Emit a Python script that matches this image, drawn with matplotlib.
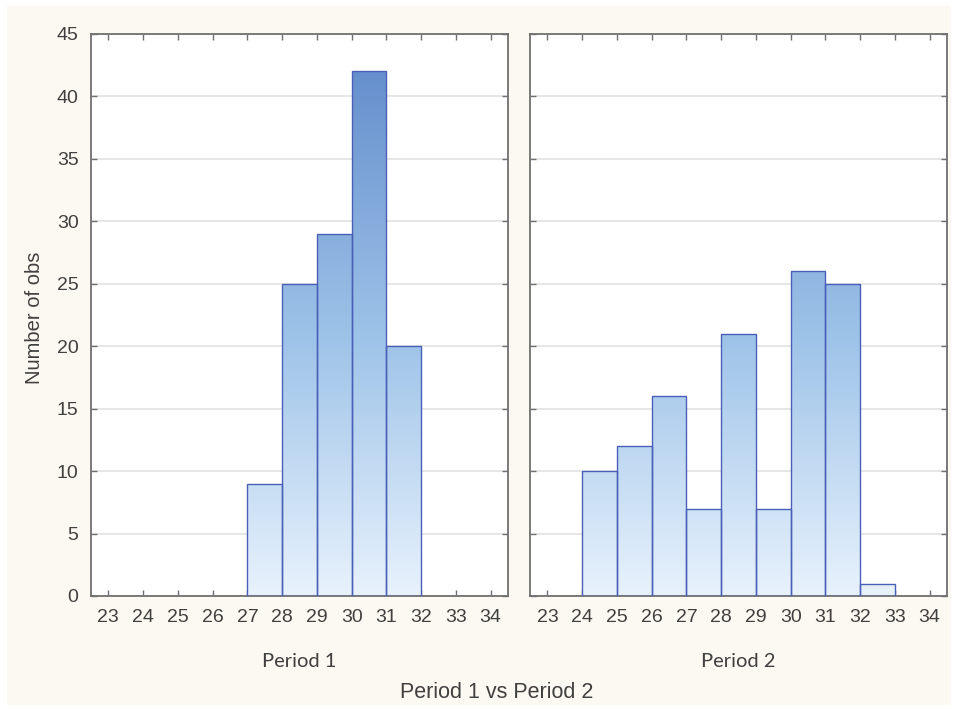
import numpy as np
import matplotlib
matplotlib.use("Agg")
import matplotlib.pyplot as plt
from matplotlib.colors import LinearSegmentedColormap
from matplotlib.patches import Rectangle

# histogram bins (left edges), width 1
bin_edges = list(range(23, 35))
period1_counts = [0, 0, 0, 0, 9, 25, 29, 42, 20, 0, 0]
period2_counts = [0, 10, 12, 16, 7, 21, 7, 26, 25, 1, 0]
panel_titles = ["Period 1", "Period 2"]
xticks = list(range(23, 35))
yticks = list(range(0, 50, 5))

bg = "#fcf9f2"
edge = "#4a60b8"
spine_col = "#707070"
text_col = "#404040"
cmap = LinearSegmentedColormap.from_list(
    "bars", [(0.0, "#e8f2fc"), (0.45, "#9fc4e9"), (0.93, "#6690cd"), (1.0, "#5f88c8")]
)

fig = plt.figure(figsize=(9.55, 7.09), dpi=100, facecolor="white")
fig.patches.append(Rectangle((7 / 955, 4 / 709), 944 / 955, 699 / 709,
                             transform=fig.transFigure, facecolor=bg,
                             edgecolor="none", zorder=-10))

W, H = 955, 709
boxes = [(91, 508), (530, 947)]
top, bottom = 34, 596
grad = np.linspace(0, 1, 256).reshape(-1, 1)

for i, (counts, title) in enumerate(zip([period1_counts, period2_counts], panel_titles)):
    x0, x1 = boxes[i]
    ax = fig.add_axes([x0 / W, 1 - bottom / H, (x1 - x0) / W, (bottom - top) / H])
    ax.set_facecolor("white")
    ax.yaxis.grid(True, color="#e2e2e2", linewidth=1.2, zorder=0)
    ax.set_axisbelow(True)

    for left, c in zip(bin_edges, counts):
        if c <= 0:
            continue
        rect = Rectangle((left, 0), 1, c, facecolor="none", edgecolor=edge,
                         linewidth=1.0, zorder=3)
        ax.add_patch(rect)
        im = ax.imshow(grad, cmap=cmap, origin="lower", aspect="auto",
                       extent=(22.5, 34.5, 0, 45), zorder=2, vmin=0, vmax=1)
        im.set_clip_path(rect)
    ax.set_xlim(22.5, 34.5)
    ax.set_ylim(0, 45)

    ax.set_xticks(xticks)
    ax.set_yticks(yticks)
    ax.tick_params(which="major", direction="in", length=4, width=1,
                   color=spine_col, top=True, right=True,
                   labelsize=14, labelcolor=text_col)
    ax.tick_params(axis="x", pad=9)
    ax.tick_params(axis="y", pad=9)
    if i == 1:
        ax.set_yticklabels([])
    for s in ax.spines.values():
        s.set_color(spine_col)
        s.set_linewidth(1.3)
    for lab in ax.get_xticklabels() + ax.get_yticklabels():
        lab.set_fontfamily("Liberation Sans")

    ax.text(0.5, -0.117, title, transform=ax.transAxes, ha="center", va="center",
            fontsize=14.5, color=text_col, family="Lato")

fig.text(34 / W, 1 - 318 / H, "Number of obs", rotation=90, ha="center",
         va="center", fontsize=14.5, color=text_col, family="Liberation Sans")
fig.text(497 / W, 1 - 692 / H, "Period 1 vs Period 2", ha="center",
         va="center", fontsize=15.5, color=text_col, family="Liberation Sans")

fig.savefig("out.png", dpi=100, facecolor=fig.get_facecolor())
